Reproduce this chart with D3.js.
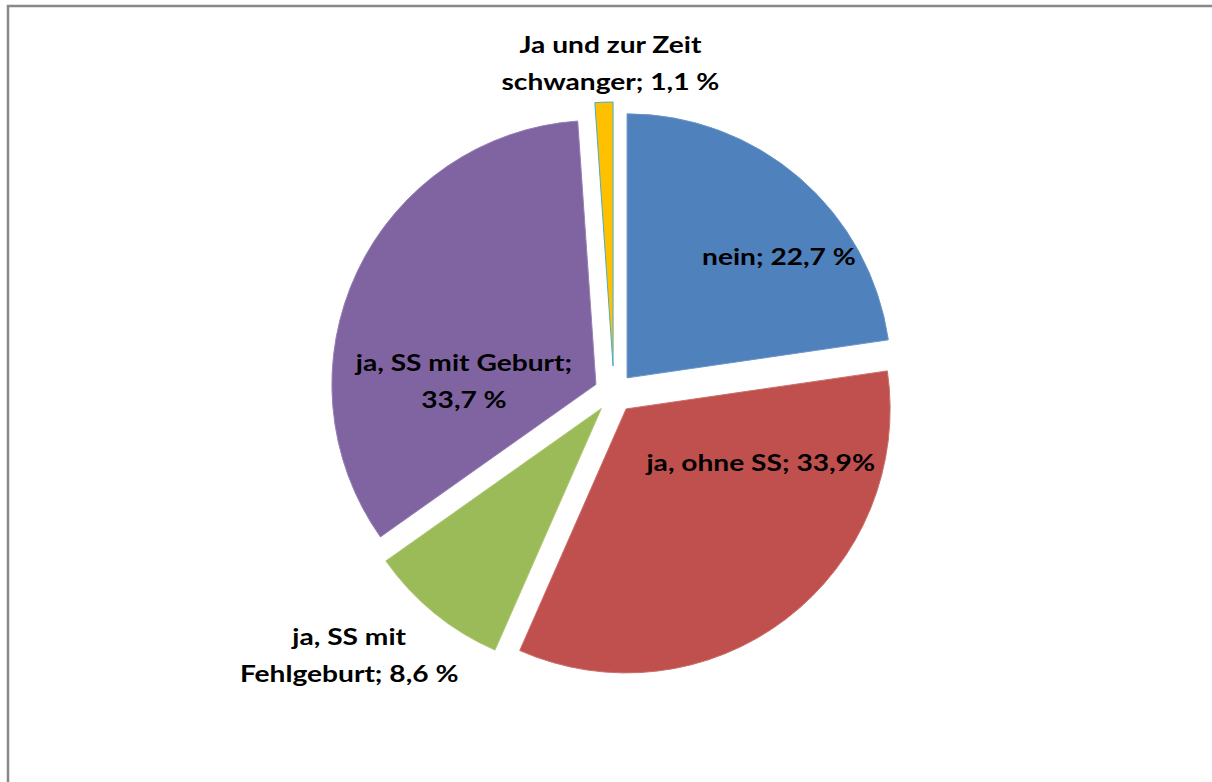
<!DOCTYPE html>
<html>
<head>
<meta charset="utf-8">
<script src="https://cdn.jsdelivr.net/npm/d3@7"></script>
<style>
  body { margin: 0; background: #fff; }
  text { font-family: Lato, "Open Sans", sans-serif; font-weight: bold; }
</style>
</head>
<body>
<script>
// data
var categories = ["nein", "ja, ohne SS", "ja, SS mit Fehlgeburt", "ja, SS mit Geburt", "Ja und zur Zeit schwanger"];
var values = [22.7, 33.9, 8.6, 33.7, 1.1];
var labelLines = [
  ["nein; 22,7 %"],
  ["ja, ohne SS; 33,9%"],
  ["ja, SS mit", "Fehlgeburt; 8,6 %"],
  ["ja, SS mit Geburt;", "33,7 %"],
  ["Ja und zur Zeit", "schwanger; 1,1 %"]
];

var colors = ["#4f81bd", "#c0504d", "#9bbb59", "#8064a2", "#ffc000"];
var strokes = ["#6a94c8", "#cc6d6a", "#aec874", "#9580b2", "#4bacc6"];

// how far each slice is pulled out, and where its label sits
// (angle in degrees clockwise from top, distance as fraction of radius)
var explode = [20, 20, 20, 20, 27];
var labelAngle = [51.5, 112, 225.6, 271, -0.5];
var labelDist = [0.735, 0.55, 1.337, 0.5, 1.144];

const w = 1212;
const h = 782;
const cx = 614;
const cy = 393;
const radius = 264;
const lineHeight = 37;

const svg = d3.select("body")
  .append("svg")
  .attr("width", w)
  .attr("height", h);

// chart frame
svg.append("rect")
  .attr("x", 8)
  .attr("y", 6)
  .attr("width", w + 20)
  .attr("height", h + 20)
  .attr("fill", "none")
  .attr("stroke", "#888")
  .attr("stroke-width", 2.5);

var pie = d3.pie().sort(null).value(d => d);
var arcs = pie(values);
var arc = d3.arc().innerRadius(0).outerRadius(radius);

function sliceCenter(d, i) {
  var a = (d.startAngle + d.endAngle) / 2;
  return [cx + Math.sin(a) * explode[i], cy - Math.cos(a) * explode[i]];
}

var g = svg.append("g");

g.selectAll("path")
  .data(arcs)
  .enter()
  .append("path")
  .attr("transform", (d, i) => {
    var p = sliceCenter(d, i);
    return "translate(" + p[0] + "," + p[1] + ")";
  })
  .attr("d", arc)
  .attr("fill", (d, i) => colors[i])
  .attr("stroke", (d, i) => strokes[i])
  .attr("stroke-width", 1)
  .append("title")
  .text((d, i) => categories[i]);

// the original font is drawn wider than Lato, so stretch it a bit
var labels = svg.selectAll("text.lbl")
  .data(arcs)
  .enter()
  .append("text")
  .attr("class", "lbl")
  .attr("text-anchor", "middle")
  .attr("font-size", 22)
  .attr("fill", "#000")
  .attr("transform", (d, i) => {
    var p = sliceCenter(d, i);
    var a = labelAngle[i] * Math.PI / 180;
    var x = p[0] + Math.sin(a) * radius * labelDist[i];
    var y = p[1] - Math.cos(a) * radius * labelDist[i];
    return "translate(" + x + "," + y + ") scale(1.28,1)";
  });

labels.selectAll("tspan")
  .data((d, i) => labelLines[i].map((t, k, arr) => ({ t: t, k: k, n: arr.length })))
  .enter()
  .append("tspan")
  .attr("x", 0)
  .attr("y", d => (d.k - (d.n - 1) / 2) * lineHeight)
  .attr("dy", "0.35em")
  .text(d => d.t);
</script>
</body>
</html>
